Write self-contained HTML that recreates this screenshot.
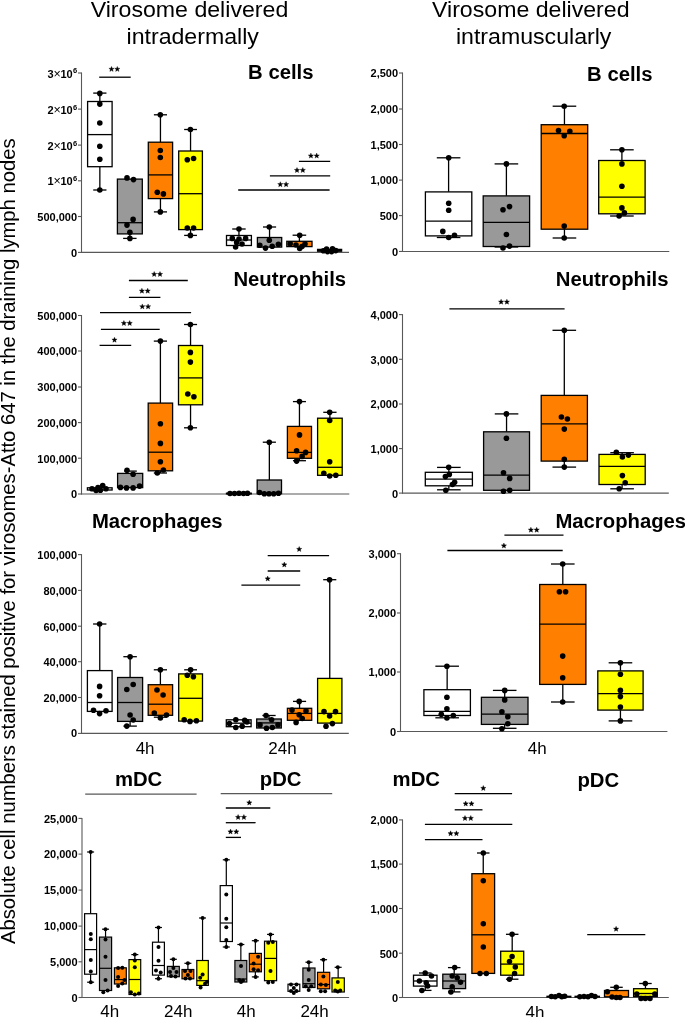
<!DOCTYPE html>
<html><head><meta charset="utf-8"><style>
html,body{margin:0;padding:0;background:#fff;width:685px;height:1017px;overflow:hidden}
svg{display:block;will-change:transform}
</style></head><body>
<svg width="685" height="1017" viewBox="0 0 685 1017" style="font-family:'Liberation Sans', sans-serif">
<rect width="685" height="1017" fill="#fff"/>
<text transform="translate(90.70,16.50) scale(1.052,1)" x="0" y="0" font-size="22">Virosome delivered</text>
<text transform="translate(127.96,43.90) scale(1.052,1)" x="-1.4" y="0" font-size="22">intradermally</text>
<text transform="translate(432.00,16.60) scale(1.052,1)" x="0" y="0" font-size="22">Virosome delivered</text>
<text transform="translate(458.00,43.80) scale(1.052,1)" x="-2" y="0" font-size="22">intramuscularly</text>
<text transform="translate(14.8,944) rotate(-90)" x="0" y="0" font-size="20" textLength="805.5" lengthAdjust="spacingAndGlyphs">Absolute cell numbers stained positive for virosomes-Atto 647 in the draining lymph nodes</text>
<line x1="81.50" y1="72.50" x2="81.50" y2="252.90" stroke="#585858" stroke-width="1.1"/>
<line x1="81.00" y1="252.40" x2="349.00" y2="252.40" stroke="#585858" stroke-width="1.1"/>
<line x1="78.00" y1="73.00" x2="81.50" y2="73.00" stroke="#585858" stroke-width="1.1"/>
<line x1="78.00" y1="109.10" x2="81.50" y2="109.10" stroke="#585858" stroke-width="1.1"/>
<line x1="78.00" y1="145.10" x2="81.50" y2="145.10" stroke="#585858" stroke-width="1.1"/>
<line x1="78.00" y1="180.80" x2="81.50" y2="180.80" stroke="#585858" stroke-width="1.1"/>
<line x1="78.00" y1="216.50" x2="81.50" y2="216.50" stroke="#585858" stroke-width="1.1"/>
<line x1="78.00" y1="252.40" x2="81.50" y2="252.40" stroke="#585858" stroke-width="1.1"/>
<text x="47.50" y="77.50" font-size="11" text-anchor="start" font-weight="bold" >3</text>
<text x="53.50" y="77.50" font-size="12.5" text-anchor="start" font-weight="normal" >×</text>
<text x="60.40" y="77.50" font-size="11" text-anchor="start" font-weight="bold" >10</text>
<text x="72.90" y="73.40" font-size="7.5" text-anchor="start" font-weight="bold" >6</text>
<text x="47.50" y="113.60" font-size="11" text-anchor="start" font-weight="bold" >2</text>
<text x="53.50" y="113.60" font-size="12.5" text-anchor="start" font-weight="normal" >×</text>
<text x="60.40" y="113.60" font-size="11" text-anchor="start" font-weight="bold" >10</text>
<text x="72.90" y="109.50" font-size="7.5" text-anchor="start" font-weight="bold" >6</text>
<text x="47.50" y="149.60" font-size="11" text-anchor="start" font-weight="bold" >2</text>
<text x="53.50" y="149.60" font-size="12.5" text-anchor="start" font-weight="normal" >×</text>
<text x="60.40" y="149.60" font-size="11" text-anchor="start" font-weight="bold" >10</text>
<text x="72.90" y="145.50" font-size="7.5" text-anchor="start" font-weight="bold" >6</text>
<text x="47.50" y="185.30" font-size="11" text-anchor="start" font-weight="bold" >1</text>
<text x="53.50" y="185.30" font-size="12.5" text-anchor="start" font-weight="normal" >×</text>
<text x="60.40" y="185.30" font-size="11" text-anchor="start" font-weight="bold" >10</text>
<text x="72.90" y="181.20" font-size="7.5" text-anchor="start" font-weight="bold" >6</text>
<text x="77.10" y="220.80" font-size="11" text-anchor="end" font-weight="bold" >500,000</text>
<text x="77.10" y="256.60" font-size="11" text-anchor="end" font-weight="bold" >0</text>
<text x="248.10" y="79.30" font-size="20.3" text-anchor="start" font-weight="bold" >B cells</text>
<line x1="99.85" y1="93.10" x2="99.85" y2="101.50" stroke="#000" stroke-width="1.3"/>
<line x1="93.23" y1="93.10" x2="106.46" y2="93.10" stroke="#000" stroke-width="1.3"/>
<line x1="99.85" y1="166.70" x2="99.85" y2="190.00" stroke="#000" stroke-width="1.3"/>
<line x1="93.23" y1="190.00" x2="106.46" y2="190.00" stroke="#000" stroke-width="1.3"/>
<rect x="87.60" y="101.50" width="24.50" height="65.20" fill="#ffffff" stroke="#000" stroke-width="1.3"/>
<line x1="87.60" y1="134.60" x2="112.10" y2="134.60" stroke="#000" stroke-width="1.3"/>
<circle cx="99.80" cy="93.40" r="2.8" fill="#000"/>
<circle cx="99.80" cy="104.10" r="2.8" fill="#000"/>
<circle cx="99.80" cy="123.00" r="2.8" fill="#000"/>
<circle cx="99.80" cy="146.20" r="2.8" fill="#000"/>
<circle cx="99.80" cy="159.30" r="2.8" fill="#000"/>
<circle cx="99.80" cy="190.00" r="2.8" fill="#000"/>
<line x1="129.85" y1="233.90" x2="129.85" y2="238.40" stroke="#000" stroke-width="1.3"/>
<line x1="123.13" y1="238.40" x2="136.57" y2="238.40" stroke="#000" stroke-width="1.3"/>
<rect x="117.40" y="179.10" width="24.90" height="54.80" fill="#999999" stroke="#000" stroke-width="1.3"/>
<line x1="117.40" y1="222.70" x2="142.30" y2="222.70" stroke="#000" stroke-width="1.3"/>
<circle cx="127.00" cy="177.90" r="2.8" fill="#000"/>
<circle cx="133.50" cy="179.60" r="2.8" fill="#000"/>
<circle cx="133.10" cy="219.40" r="2.8" fill="#000"/>
<circle cx="127.00" cy="225.10" r="2.8" fill="#000"/>
<circle cx="129.90" cy="232.30" r="2.8" fill="#000"/>
<circle cx="129.90" cy="238.40" r="2.8" fill="#000"/>
<line x1="160.45" y1="114.80" x2="160.45" y2="142.20" stroke="#000" stroke-width="1.3"/>
<line x1="153.89" y1="114.80" x2="167.01" y2="114.80" stroke="#000" stroke-width="1.3"/>
<line x1="160.45" y1="198.60" x2="160.45" y2="211.90" stroke="#000" stroke-width="1.3"/>
<line x1="153.89" y1="211.90" x2="167.01" y2="211.90" stroke="#000" stroke-width="1.3"/>
<rect x="148.30" y="142.20" width="24.30" height="56.40" fill="#ff8000" stroke="#000" stroke-width="1.3"/>
<line x1="148.30" y1="174.90" x2="172.60" y2="174.90" stroke="#000" stroke-width="1.3"/>
<circle cx="160.30" cy="114.80" r="2.8" fill="#000"/>
<circle cx="160.30" cy="150.50" r="2.8" fill="#000"/>
<circle cx="160.30" cy="157.50" r="2.8" fill="#000"/>
<circle cx="157.30" cy="192.20" r="2.8" fill="#000"/>
<circle cx="163.40" cy="193.90" r="2.8" fill="#000"/>
<circle cx="160.30" cy="211.90" r="2.8" fill="#000"/>
<line x1="190.55" y1="129.50" x2="190.55" y2="151.00" stroke="#000" stroke-width="1.3"/>
<line x1="184.15" y1="129.50" x2="196.95" y2="129.50" stroke="#000" stroke-width="1.3"/>
<line x1="190.55" y1="229.60" x2="190.55" y2="235.40" stroke="#000" stroke-width="1.3"/>
<line x1="184.15" y1="235.40" x2="196.95" y2="235.40" stroke="#000" stroke-width="1.3"/>
<rect x="178.70" y="151.00" width="23.70" height="78.60" fill="#ffff00" stroke="#000" stroke-width="1.3"/>
<line x1="178.70" y1="193.70" x2="202.40" y2="193.70" stroke="#000" stroke-width="1.3"/>
<circle cx="190.40" cy="129.50" r="2.8" fill="#000"/>
<circle cx="187.30" cy="159.70" r="2.8" fill="#000"/>
<circle cx="193.60" cy="158.50" r="2.8" fill="#000"/>
<circle cx="187.30" cy="228.00" r="2.8" fill="#000"/>
<circle cx="193.60" cy="228.00" r="2.8" fill="#000"/>
<circle cx="190.40" cy="235.40" r="2.8" fill="#000"/>
<line x1="238.95" y1="229.00" x2="238.95" y2="235.50" stroke="#000" stroke-width="1.3"/>
<line x1="232.23" y1="229.00" x2="245.67" y2="229.00" stroke="#000" stroke-width="1.3"/>
<rect x="226.50" y="235.50" width="24.90" height="10.00" fill="#ffffff" stroke="#000" stroke-width="1.3"/>
<line x1="226.50" y1="240.00" x2="251.40" y2="240.00" stroke="#000" stroke-width="1.3"/>
<circle cx="239.00" cy="229.00" r="2.8" fill="#000"/>
<circle cx="232.30" cy="238.40" r="2.8" fill="#000"/>
<circle cx="239.00" cy="239.00" r="2.8" fill="#000"/>
<circle cx="245.60" cy="238.40" r="2.8" fill="#000"/>
<circle cx="236.70" cy="242.40" r="2.8" fill="#000"/>
<circle cx="242.00" cy="244.00" r="2.8" fill="#000"/>
<circle cx="235.60" cy="247.00" r="2.8" fill="#000"/>
<line x1="269.55" y1="227.00" x2="269.55" y2="237.50" stroke="#000" stroke-width="1.3"/>
<line x1="262.99" y1="227.00" x2="276.11" y2="227.00" stroke="#000" stroke-width="1.3"/>
<rect x="257.40" y="237.50" width="24.30" height="9.60" fill="#999999" stroke="#000" stroke-width="1.3"/>
<circle cx="269.30" cy="227.00" r="2.8" fill="#000"/>
<circle cx="269.30" cy="240.30" r="2.8" fill="#000"/>
<circle cx="259.80" cy="245.20" r="2.8" fill="#000"/>
<circle cx="265.50" cy="248.10" r="2.8" fill="#000"/>
<circle cx="272.20" cy="246.20" r="2.8" fill="#000"/>
<circle cx="278.40" cy="244.30" r="2.8" fill="#000"/>
<line x1="299.40" y1="235.20" x2="299.40" y2="241.30" stroke="#000" stroke-width="1.3"/>
<line x1="292.60" y1="235.20" x2="306.20" y2="235.20" stroke="#000" stroke-width="1.3"/>
<rect x="286.80" y="241.30" width="25.20" height="5.30" fill="#ff8000" stroke="#000" stroke-width="1.3"/>
<circle cx="299.70" cy="235.20" r="2.8" fill="#000"/>
<circle cx="290.20" cy="243.70" r="2.8" fill="#000"/>
<circle cx="299.70" cy="248.50" r="2.8" fill="#000"/>
<circle cx="305.00" cy="244.00" r="2.8" fill="#000"/>
<circle cx="296.00" cy="245.00" r="2.8" fill="#000"/>
<circle cx="302.00" cy="246.50" r="2.8" fill="#000"/>
<rect x="317.60" y="249.40" width="24.00" height="1.80" fill="#000" stroke="#000" stroke-width="1.3"/>
<circle cx="323.40" cy="250.80" r="2.8" fill="#000"/>
<circle cx="326.60" cy="249.00" r="2.8" fill="#000"/>
<circle cx="327.50" cy="251.60" r="2.8" fill="#000"/>
<circle cx="332.50" cy="248.70" r="2.8" fill="#000"/>
<circle cx="331.60" cy="251.60" r="2.8" fill="#000"/>
<circle cx="335.70" cy="250.60" r="2.8" fill="#000"/>
<line x1="99.20" y1="77.20" x2="130.70" y2="77.20" stroke="#000" stroke-width="1.3"/>
<polygon points="111.50,66.41 112.21,68.19 114.12,68.31 112.64,69.53 113.12,71.39 111.50,70.36 109.88,71.39 110.36,69.53 108.88,68.31 110.79,68.19" fill="#000" stroke="#000" stroke-width="0.35" stroke-linejoin="round"/>
<polygon points="117.30,66.41 118.01,68.19 119.92,68.31 118.44,69.53 118.92,71.39 117.30,70.36 115.68,71.39 116.16,69.53 114.68,68.31 116.59,68.19" fill="#000" stroke="#000" stroke-width="0.35" stroke-linejoin="round"/>
<line x1="298.90" y1="161.40" x2="330.20" y2="161.40" stroke="#000" stroke-width="1.3"/>
<polygon points="310.90,153.11 311.61,154.89 313.52,155.01 312.04,156.23 312.52,158.09 310.90,157.06 309.28,158.09 309.76,156.23 308.28,155.01 310.19,154.89" fill="#000" stroke="#000" stroke-width="0.35" stroke-linejoin="round"/>
<polygon points="316.70,153.11 317.41,154.89 319.32,155.01 317.84,156.23 318.32,158.09 316.70,157.06 315.08,158.09 315.56,156.23 314.08,155.01 315.99,154.89" fill="#000" stroke="#000" stroke-width="0.35" stroke-linejoin="round"/>
<line x1="269.90" y1="175.90" x2="330.20" y2="175.90" stroke="#000" stroke-width="1.3"/>
<polygon points="297.00,167.51 297.71,169.29 299.62,169.41 298.14,170.63 298.62,172.49 297.00,171.46 295.38,172.49 295.86,170.63 294.38,169.41 296.29,169.29" fill="#000" stroke="#000" stroke-width="0.35" stroke-linejoin="round"/>
<polygon points="302.80,167.51 303.51,169.29 305.42,169.41 303.94,170.63 304.42,172.49 302.80,171.46 301.18,172.49 301.66,170.63 300.18,169.41 302.09,169.29" fill="#000" stroke="#000" stroke-width="0.35" stroke-linejoin="round"/>
<line x1="238.20" y1="190.00" x2="329.60" y2="190.00" stroke="#000" stroke-width="1.3"/>
<polygon points="280.30,181.71 281.01,183.49 282.92,183.61 281.44,184.83 281.92,186.69 280.30,185.66 278.68,186.69 279.16,184.83 277.68,183.61 279.59,183.49" fill="#000" stroke="#000" stroke-width="0.35" stroke-linejoin="round"/>
<polygon points="286.10,181.71 286.81,183.49 288.72,183.61 287.24,184.83 287.72,186.69 286.10,185.66 284.48,186.69 284.96,184.83 283.48,183.61 285.39,183.49" fill="#000" stroke="#000" stroke-width="0.35" stroke-linejoin="round"/>
<line x1="81.50" y1="315.00" x2="81.50" y2="494.50" stroke="#585858" stroke-width="1.1"/>
<line x1="81.00" y1="494.00" x2="349.30" y2="494.00" stroke="#585858" stroke-width="1.1"/>
<line x1="78.00" y1="315.50" x2="81.50" y2="315.50" stroke="#585858" stroke-width="1.1"/>
<line x1="78.00" y1="351.00" x2="81.50" y2="351.00" stroke="#585858" stroke-width="1.1"/>
<line x1="78.00" y1="387.00" x2="81.50" y2="387.00" stroke="#585858" stroke-width="1.1"/>
<line x1="78.00" y1="422.60" x2="81.50" y2="422.60" stroke="#585858" stroke-width="1.1"/>
<line x1="78.00" y1="458.20" x2="81.50" y2="458.20" stroke="#585858" stroke-width="1.1"/>
<line x1="78.00" y1="494.00" x2="81.50" y2="494.00" stroke="#585858" stroke-width="1.1"/>
<text x="77.10" y="319.80" font-size="11" text-anchor="end" font-weight="bold" >500,000</text>
<text x="77.10" y="355.30" font-size="11" text-anchor="end" font-weight="bold" >400,000</text>
<text x="77.10" y="391.30" font-size="11" text-anchor="end" font-weight="bold" >300,000</text>
<text x="77.10" y="426.90" font-size="11" text-anchor="end" font-weight="bold" >200,000</text>
<text x="77.10" y="462.50" font-size="11" text-anchor="end" font-weight="bold" >100,000</text>
<text x="77.10" y="498.10" font-size="11" text-anchor="end" font-weight="bold" >0</text>
<text x="233.40" y="285.80" font-size="20.3" text-anchor="start" font-weight="bold" >Neutrophils</text>
<rect x="87.40" y="487.80" width="24.70" height="2.20" fill="#ffffff" stroke="#000" stroke-width="1.3"/>
<circle cx="92.00" cy="488.80" r="2.8" fill="#000"/>
<circle cx="96.10" cy="490.50" r="2.8" fill="#000"/>
<circle cx="98.00" cy="487.60" r="2.8" fill="#000"/>
<circle cx="102.70" cy="485.50" r="2.8" fill="#000"/>
<circle cx="100.40" cy="490.20" r="2.8" fill="#000"/>
<circle cx="106.00" cy="488.80" r="2.8" fill="#000"/>
<rect x="117.60" y="473.40" width="25.10" height="14.20" fill="#999999" stroke="#000" stroke-width="1.3"/>
<circle cx="127.00" cy="470.30" r="2.8" fill="#000"/>
<circle cx="133.10" cy="474.30" r="2.8" fill="#000"/>
<circle cx="120.40" cy="487.40" r="2.8" fill="#000"/>
<circle cx="126.50" cy="487.90" r="2.8" fill="#000"/>
<circle cx="133.10" cy="487.90" r="2.8" fill="#000"/>
<circle cx="139.60" cy="486.10" r="2.8" fill="#000"/>
<line x1="124.20" y1="471.10" x2="136.80" y2="471.10" stroke="#000" stroke-width="1.3"/>
<line x1="160.40" y1="341.10" x2="160.40" y2="403.10" stroke="#000" stroke-width="1.3"/>
<line x1="153.81" y1="341.10" x2="166.99" y2="341.10" stroke="#000" stroke-width="1.3"/>
<line x1="160.40" y1="470.80" x2="160.40" y2="473.00" stroke="#000" stroke-width="1.3"/>
<line x1="153.81" y1="473.00" x2="166.99" y2="473.00" stroke="#000" stroke-width="1.3"/>
<rect x="148.20" y="403.10" width="24.40" height="67.70" fill="#ff8000" stroke="#000" stroke-width="1.3"/>
<line x1="148.20" y1="452.20" x2="172.60" y2="452.20" stroke="#000" stroke-width="1.3"/>
<circle cx="160.40" cy="341.10" r="2.8" fill="#000"/>
<circle cx="160.40" cy="423.70" r="2.8" fill="#000"/>
<circle cx="160.40" cy="443.40" r="2.8" fill="#000"/>
<circle cx="160.40" cy="461.70" r="2.8" fill="#000"/>
<circle cx="163.40" cy="470.00" r="2.8" fill="#000"/>
<circle cx="157.30" cy="473.00" r="2.8" fill="#000"/>
<line x1="190.55" y1="324.50" x2="190.55" y2="345.50" stroke="#000" stroke-width="1.3"/>
<line x1="184.04" y1="324.50" x2="197.06" y2="324.50" stroke="#000" stroke-width="1.3"/>
<line x1="190.55" y1="404.80" x2="190.55" y2="427.80" stroke="#000" stroke-width="1.3"/>
<line x1="184.04" y1="427.80" x2="197.06" y2="427.80" stroke="#000" stroke-width="1.3"/>
<rect x="178.50" y="345.50" width="24.10" height="59.30" fill="#ffff00" stroke="#000" stroke-width="1.3"/>
<line x1="178.50" y1="377.90" x2="202.60" y2="377.90" stroke="#000" stroke-width="1.3"/>
<circle cx="190.40" cy="324.50" r="2.8" fill="#000"/>
<circle cx="190.40" cy="352.40" r="2.8" fill="#000"/>
<circle cx="190.40" cy="362.10" r="2.8" fill="#000"/>
<circle cx="187.80" cy="394.00" r="2.8" fill="#000"/>
<circle cx="193.90" cy="396.80" r="2.8" fill="#000"/>
<circle cx="190.40" cy="427.80" r="2.8" fill="#000"/>
<rect x="226.50" y="493.20" width="24.80" height="0.70" fill="#ffffff" stroke="#000" stroke-width="1.3"/>
<circle cx="230.00" cy="493.50" r="2.8" fill="#000"/>
<circle cx="234.50" cy="493.50" r="2.8" fill="#000"/>
<circle cx="239.00" cy="493.30" r="2.8" fill="#000"/>
<circle cx="243.50" cy="493.50" r="2.8" fill="#000"/>
<circle cx="247.50" cy="493.30" r="2.8" fill="#000"/>
<line x1="269.35" y1="442.20" x2="269.35" y2="480.00" stroke="#000" stroke-width="1.3"/>
<line x1="262.79" y1="442.20" x2="275.91" y2="442.20" stroke="#000" stroke-width="1.3"/>
<rect x="257.20" y="480.00" width="24.30" height="13.70" fill="#999999" stroke="#000" stroke-width="1.3"/>
<circle cx="269.30" cy="442.20" r="2.8" fill="#000"/>
<circle cx="259.60" cy="492.50" r="2.8" fill="#000"/>
<circle cx="264.30" cy="493.70" r="2.8" fill="#000"/>
<circle cx="269.00" cy="493.70" r="2.8" fill="#000"/>
<circle cx="273.70" cy="493.70" r="2.8" fill="#000"/>
<circle cx="278.50" cy="493.20" r="2.8" fill="#000"/>
<line x1="299.45" y1="401.60" x2="299.45" y2="426.40" stroke="#000" stroke-width="1.3"/>
<line x1="292.94" y1="401.60" x2="305.96" y2="401.60" stroke="#000" stroke-width="1.3"/>
<line x1="299.45" y1="458.30" x2="299.45" y2="460.70" stroke="#000" stroke-width="1.3"/>
<line x1="292.94" y1="460.70" x2="305.96" y2="460.70" stroke="#000" stroke-width="1.3"/>
<rect x="287.40" y="426.40" width="24.10" height="31.90" fill="#ff8000" stroke="#000" stroke-width="1.3"/>
<line x1="287.40" y1="452.40" x2="311.50" y2="452.40" stroke="#000" stroke-width="1.3"/>
<circle cx="299.50" cy="401.60" r="2.8" fill="#000"/>
<circle cx="299.50" cy="434.90" r="2.8" fill="#000"/>
<circle cx="296.60" cy="450.70" r="2.8" fill="#000"/>
<circle cx="305.60" cy="452.40" r="2.8" fill="#000"/>
<circle cx="302.10" cy="456.40" r="2.8" fill="#000"/>
<circle cx="296.60" cy="461.10" r="2.8" fill="#000"/>
<line x1="329.90" y1="412.30" x2="329.90" y2="418.20" stroke="#000" stroke-width="1.3"/>
<line x1="323.26" y1="412.30" x2="336.54" y2="412.30" stroke="#000" stroke-width="1.3"/>
<rect x="317.60" y="418.20" width="24.60" height="57.10" fill="#ffff00" stroke="#000" stroke-width="1.3"/>
<line x1="317.60" y1="467.30" x2="342.20" y2="467.30" stroke="#000" stroke-width="1.3"/>
<circle cx="329.70" cy="412.30" r="2.8" fill="#000"/>
<circle cx="329.70" cy="420.50" r="2.8" fill="#000"/>
<circle cx="329.70" cy="461.80" r="2.8" fill="#000"/>
<circle cx="323.80" cy="473.20" r="2.8" fill="#000"/>
<circle cx="329.70" cy="476.00" r="2.8" fill="#000"/>
<circle cx="335.80" cy="475.30" r="2.8" fill="#000"/>
<line x1="128.90" y1="280.50" x2="187.80" y2="280.50" stroke="#000" stroke-width="1.3"/>
<polygon points="154.20,271.51 154.91,273.29 156.82,273.41 155.34,274.63 155.82,276.49 154.20,275.46 152.58,276.49 153.06,274.63 151.58,273.41 153.49,273.29" fill="#000" stroke="#000" stroke-width="0.35" stroke-linejoin="round"/>
<polygon points="160.00,271.51 160.71,273.29 162.62,273.41 161.14,274.63 161.62,276.49 160.00,275.46 158.38,276.49 158.86,274.63 157.38,273.41 159.29,273.29" fill="#000" stroke="#000" stroke-width="0.35" stroke-linejoin="round"/>
<line x1="128.90" y1="297.30" x2="160.40" y2="297.30" stroke="#000" stroke-width="1.3"/>
<polygon points="141.90,288.21 142.61,289.99 144.52,290.11 143.04,291.33 143.52,293.19 141.90,292.16 140.28,293.19 140.76,291.33 139.28,290.11 141.19,289.99" fill="#000" stroke="#000" stroke-width="0.35" stroke-linejoin="round"/>
<polygon points="147.70,288.21 148.41,289.99 150.32,290.11 148.84,291.33 149.32,293.19 147.70,292.16 146.08,293.19 146.56,291.33 145.08,290.11 146.99,289.99" fill="#000" stroke="#000" stroke-width="0.35" stroke-linejoin="round"/>
<line x1="100.00" y1="312.70" x2="191.10" y2="312.70" stroke="#000" stroke-width="1.3"/>
<polygon points="142.30,303.91 143.01,305.69 144.92,305.81 143.44,307.03 143.92,308.89 142.30,307.86 140.68,308.89 141.16,307.03 139.68,305.81 141.59,305.69" fill="#000" stroke="#000" stroke-width="0.35" stroke-linejoin="round"/>
<polygon points="148.10,303.91 148.81,305.69 150.72,305.81 149.24,307.03 149.72,308.89 148.10,307.86 146.48,308.89 146.96,307.03 145.48,305.81 147.39,305.69" fill="#000" stroke="#000" stroke-width="0.35" stroke-linejoin="round"/>
<line x1="100.90" y1="329.40" x2="159.70" y2="329.40" stroke="#000" stroke-width="1.3"/>
<polygon points="123.90,320.51 124.61,322.29 126.52,322.41 125.04,323.63 125.52,325.49 123.90,324.46 122.28,325.49 122.76,323.63 121.28,322.41 123.19,322.29" fill="#000" stroke="#000" stroke-width="0.35" stroke-linejoin="round"/>
<polygon points="129.70,320.51 130.41,322.29 132.32,322.41 130.84,323.63 131.32,325.49 129.70,324.46 128.08,325.49 128.56,323.63 127.08,322.41 128.99,322.29" fill="#000" stroke="#000" stroke-width="0.35" stroke-linejoin="round"/>
<line x1="99.60" y1="345.30" x2="131.20" y2="345.30" stroke="#000" stroke-width="1.3"/>
<polygon points="114.50,337.21 115.21,338.99 117.12,339.11 115.64,340.33 116.12,342.19 114.50,341.16 112.88,342.19 113.36,340.33 111.88,339.11 113.79,338.99" fill="#000" stroke="#000" stroke-width="0.35" stroke-linejoin="round"/>
<line x1="81.50" y1="554.10" x2="81.50" y2="733.90" stroke="#585858" stroke-width="1.1"/>
<line x1="81.00" y1="733.40" x2="348.80" y2="733.40" stroke="#585858" stroke-width="1.1"/>
<line x1="78.00" y1="554.60" x2="81.50" y2="554.60" stroke="#585858" stroke-width="1.1"/>
<line x1="78.00" y1="590.40" x2="81.50" y2="590.40" stroke="#585858" stroke-width="1.1"/>
<line x1="78.00" y1="626.20" x2="81.50" y2="626.20" stroke="#585858" stroke-width="1.1"/>
<line x1="78.00" y1="661.70" x2="81.50" y2="661.70" stroke="#585858" stroke-width="1.1"/>
<line x1="78.00" y1="697.50" x2="81.50" y2="697.50" stroke="#585858" stroke-width="1.1"/>
<line x1="78.00" y1="733.40" x2="81.50" y2="733.40" stroke="#585858" stroke-width="1.1"/>
<text x="77.10" y="558.90" font-size="11" text-anchor="end" font-weight="bold" >100,000</text>
<text x="77.10" y="594.70" font-size="11" text-anchor="end" font-weight="bold" >80,000</text>
<text x="77.10" y="630.50" font-size="11" text-anchor="end" font-weight="bold" >60,000</text>
<text x="77.10" y="666.00" font-size="11" text-anchor="end" font-weight="bold" >40,000</text>
<text x="77.10" y="701.80" font-size="11" text-anchor="end" font-weight="bold" >20,000</text>
<text x="77.10" y="737.30" font-size="11" text-anchor="end" font-weight="bold" >0</text>
<text x="91.90" y="527.80" font-size="20.3" text-anchor="start" font-weight="bold" >Macrophages</text>
<text x="135.65" y="754.00" font-size="17" text-anchor="start" font-weight="normal" >4h</text>
<text x="268.30" y="754.00" font-size="17" text-anchor="start" font-weight="normal" >24h</text>
<line x1="99.75" y1="624.00" x2="99.75" y2="670.60" stroke="#000" stroke-width="1.3"/>
<line x1="93.08" y1="624.00" x2="106.42" y2="624.00" stroke="#000" stroke-width="1.3"/>
<rect x="87.40" y="670.60" width="24.70" height="40.80" fill="#ffffff" stroke="#000" stroke-width="1.3"/>
<line x1="87.40" y1="702.50" x2="112.10" y2="702.50" stroke="#000" stroke-width="1.3"/>
<circle cx="99.60" cy="624.00" r="2.8" fill="#000"/>
<circle cx="99.60" cy="686.40" r="2.8" fill="#000"/>
<circle cx="99.60" cy="695.80" r="2.8" fill="#000"/>
<circle cx="93.50" cy="710.30" r="2.8" fill="#000"/>
<circle cx="99.60" cy="713.60" r="2.8" fill="#000"/>
<circle cx="106.00" cy="710.80" r="2.8" fill="#000"/>
<line x1="130.10" y1="656.70" x2="130.10" y2="677.50" stroke="#000" stroke-width="1.3"/>
<line x1="123.35" y1="656.70" x2="136.85" y2="656.70" stroke="#000" stroke-width="1.3"/>
<line x1="130.10" y1="721.40" x2="130.10" y2="726.10" stroke="#000" stroke-width="1.3"/>
<line x1="123.35" y1="726.10" x2="136.85" y2="726.10" stroke="#000" stroke-width="1.3"/>
<rect x="117.60" y="677.50" width="25.00" height="43.90" fill="#999999" stroke="#000" stroke-width="1.3"/>
<line x1="117.60" y1="702.50" x2="142.60" y2="702.50" stroke="#000" stroke-width="1.3"/>
<circle cx="130.10" cy="656.70" r="2.8" fill="#000"/>
<circle cx="126.80" cy="689.50" r="2.8" fill="#000"/>
<circle cx="133.20" cy="684.50" r="2.8" fill="#000"/>
<circle cx="130.10" cy="715.00" r="2.8" fill="#000"/>
<circle cx="133.20" cy="720.00" r="2.8" fill="#000"/>
<circle cx="126.80" cy="726.10" r="2.8" fill="#000"/>
<line x1="160.40" y1="669.80" x2="160.40" y2="684.70" stroke="#000" stroke-width="1.3"/>
<line x1="153.81" y1="669.80" x2="166.99" y2="669.80" stroke="#000" stroke-width="1.3"/>
<line x1="160.40" y1="715.30" x2="160.40" y2="717.20" stroke="#000" stroke-width="1.3"/>
<line x1="153.81" y1="717.20" x2="166.99" y2="717.20" stroke="#000" stroke-width="1.3"/>
<rect x="148.20" y="684.70" width="24.40" height="30.60" fill="#ff8000" stroke="#000" stroke-width="1.3"/>
<line x1="148.20" y1="704.20" x2="172.60" y2="704.20" stroke="#000" stroke-width="1.3"/>
<circle cx="160.40" cy="669.80" r="2.8" fill="#000"/>
<circle cx="157.00" cy="690.00" r="2.8" fill="#000"/>
<circle cx="163.10" cy="695.00" r="2.8" fill="#000"/>
<circle cx="154.30" cy="713.00" r="2.8" fill="#000"/>
<circle cx="160.40" cy="718.00" r="2.8" fill="#000"/>
<circle cx="166.50" cy="715.00" r="2.8" fill="#000"/>
<line x1="190.60" y1="669.80" x2="190.60" y2="673.90" stroke="#000" stroke-width="1.3"/>
<line x1="184.17" y1="669.80" x2="197.03" y2="669.80" stroke="#000" stroke-width="1.3"/>
<rect x="178.70" y="673.90" width="23.80" height="47.20" fill="#ffff00" stroke="#000" stroke-width="1.3"/>
<line x1="178.70" y1="698.30" x2="202.50" y2="698.30" stroke="#000" stroke-width="1.3"/>
<circle cx="190.60" cy="669.80" r="2.8" fill="#000"/>
<circle cx="187.30" cy="675.30" r="2.8" fill="#000"/>
<circle cx="193.40" cy="676.70" r="2.8" fill="#000"/>
<circle cx="184.20" cy="719.70" r="2.8" fill="#000"/>
<circle cx="190.00" cy="721.40" r="2.8" fill="#000"/>
<circle cx="196.40" cy="720.80" r="2.8" fill="#000"/>
<rect x="226.30" y="719.80" width="24.80" height="6.90" fill="#ffffff" stroke="#000" stroke-width="1.3"/>
<line x1="226.30" y1="723.20" x2="251.10" y2="723.20" stroke="#000" stroke-width="1.3"/>
<circle cx="235.80" cy="719.80" r="2.8" fill="#000"/>
<circle cx="244.70" cy="720.30" r="2.8" fill="#000"/>
<circle cx="235.80" cy="727.50" r="2.8" fill="#000"/>
<circle cx="242.20" cy="726.20" r="2.8" fill="#000"/>
<circle cx="229.40" cy="723.60" r="2.8" fill="#000"/>
<circle cx="247.00" cy="722.00" r="2.8" fill="#000"/>
<line x1="269.00" y1="715.50" x2="269.00" y2="719.00" stroke="#000" stroke-width="1.3"/>
<line x1="262.36" y1="715.50" x2="275.64" y2="715.50" stroke="#000" stroke-width="1.3"/>
<rect x="256.70" y="719.00" width="24.60" height="9.00" fill="#999999" stroke="#000" stroke-width="1.3"/>
<line x1="256.70" y1="722.90" x2="281.30" y2="722.90" stroke="#000" stroke-width="1.3"/>
<circle cx="266.00" cy="715.50" r="2.8" fill="#000"/>
<circle cx="271.60" cy="719.80" r="2.8" fill="#000"/>
<circle cx="260.00" cy="724.90" r="2.8" fill="#000"/>
<circle cx="266.50" cy="728.20" r="2.8" fill="#000"/>
<circle cx="272.30" cy="727.50" r="2.8" fill="#000"/>
<circle cx="278.00" cy="724.90" r="2.8" fill="#000"/>
<line x1="299.55" y1="701.40" x2="299.55" y2="708.30" stroke="#000" stroke-width="1.3"/>
<line x1="292.99" y1="701.40" x2="306.11" y2="701.40" stroke="#000" stroke-width="1.3"/>
<rect x="287.40" y="708.30" width="24.30" height="12.00" fill="#ff8000" stroke="#000" stroke-width="1.3"/>
<line x1="287.40" y1="713.40" x2="311.70" y2="713.40" stroke="#000" stroke-width="1.3"/>
<circle cx="299.20" cy="701.40" r="2.8" fill="#000"/>
<circle cx="292.00" cy="710.10" r="2.8" fill="#000"/>
<circle cx="306.00" cy="710.90" r="2.8" fill="#000"/>
<circle cx="299.20" cy="714.70" r="2.8" fill="#000"/>
<circle cx="302.20" cy="718.50" r="2.8" fill="#000"/>
<circle cx="296.10" cy="722.40" r="2.8" fill="#000"/>
<line x1="329.75" y1="579.70" x2="329.75" y2="678.40" stroke="#000" stroke-width="1.3"/>
<line x1="323.19" y1="579.70" x2="336.31" y2="579.70" stroke="#000" stroke-width="1.3"/>
<rect x="317.60" y="678.40" width="24.30" height="44.70" fill="#ffff00" stroke="#000" stroke-width="1.3"/>
<line x1="317.60" y1="713.40" x2="341.90" y2="713.40" stroke="#000" stroke-width="1.3"/>
<circle cx="329.60" cy="579.70" r="2.8" fill="#000"/>
<circle cx="324.00" cy="711.60" r="2.8" fill="#000"/>
<circle cx="335.50" cy="711.60" r="2.8" fill="#000"/>
<circle cx="329.60" cy="716.00" r="2.8" fill="#000"/>
<circle cx="332.40" cy="723.60" r="2.8" fill="#000"/>
<circle cx="326.00" cy="726.20" r="2.8" fill="#000"/>
<line x1="267.70" y1="555.70" x2="329.10" y2="555.70" stroke="#000" stroke-width="1.3"/>
<polygon points="299.20,546.51 299.91,548.29 301.82,548.41 300.34,549.63 300.82,551.49 299.20,550.46 297.58,551.49 298.06,549.63 296.58,548.41 298.49,548.29" fill="#000" stroke="#000" stroke-width="0.35" stroke-linejoin="round"/>
<line x1="267.70" y1="571.00" x2="300.20" y2="571.00" stroke="#000" stroke-width="1.3"/>
<polygon points="284.30,562.01 285.01,563.79 286.92,563.91 285.44,565.13 285.92,566.99 284.30,565.96 282.68,566.99 283.16,565.13 281.68,563.91 283.59,563.79" fill="#000" stroke="#000" stroke-width="0.35" stroke-linejoin="round"/>
<line x1="241.40" y1="585.10" x2="300.20" y2="585.10" stroke="#000" stroke-width="1.3"/>
<polygon points="267.70,576.01 268.41,577.79 270.32,577.91 268.84,579.13 269.32,580.99 267.70,579.96 266.08,580.99 266.56,579.13 265.08,577.91 266.99,577.79" fill="#000" stroke="#000" stroke-width="0.35" stroke-linejoin="round"/>
<line x1="82.00" y1="817.90" x2="82.00" y2="998.00" stroke="#585858" stroke-width="1.1"/>
<line x1="81.50" y1="997.50" x2="349.10" y2="997.50" stroke="#585858" stroke-width="1.1"/>
<line x1="78.50" y1="818.40" x2="82.00" y2="818.40" stroke="#585858" stroke-width="1.1"/>
<line x1="78.50" y1="854.10" x2="82.00" y2="854.10" stroke="#585858" stroke-width="1.1"/>
<line x1="78.50" y1="890.10" x2="82.00" y2="890.10" stroke="#585858" stroke-width="1.1"/>
<line x1="78.50" y1="926.10" x2="82.00" y2="926.10" stroke="#585858" stroke-width="1.1"/>
<line x1="78.50" y1="961.80" x2="82.00" y2="961.80" stroke="#585858" stroke-width="1.1"/>
<line x1="78.50" y1="997.50" x2="82.00" y2="997.50" stroke="#585858" stroke-width="1.1"/>
<text x="77.60" y="822.70" font-size="11" text-anchor="end" font-weight="bold" >25,000</text>
<text x="77.60" y="858.40" font-size="11" text-anchor="end" font-weight="bold" >20,000</text>
<text x="77.60" y="894.40" font-size="11" text-anchor="end" font-weight="bold" >15,000</text>
<text x="77.60" y="930.40" font-size="11" text-anchor="end" font-weight="bold" >10,000</text>
<text x="77.60" y="966.10" font-size="11" text-anchor="end" font-weight="bold" >5,000</text>
<text x="77.60" y="1001.80" font-size="11" text-anchor="end" font-weight="bold" >0</text>
<text x="114.90" y="786.30" font-size="20.3" text-anchor="start" font-weight="bold" >mDC</text>
<line x1="85.20" y1="794.20" x2="196.60" y2="794.20" stroke="#585858" stroke-width="1.2"/>
<text x="259.80" y="786.30" font-size="20.3" text-anchor="start" font-weight="bold" >pDC</text>
<line x1="220.70" y1="793.60" x2="332.20" y2="793.60" stroke="#585858" stroke-width="1.2"/>
<text x="100.30" y="1017.20" font-size="17" text-anchor="start" font-weight="normal" >4h</text>
<text x="164.10" y="1017.20" font-size="17" text-anchor="start" font-weight="normal" >24h</text>
<text x="236.70" y="1017.20" font-size="17" text-anchor="start" font-weight="normal" >4h</text>
<text x="300.40" y="1017.20" font-size="17" text-anchor="start" font-weight="normal" >24h</text>
<line x1="90.60" y1="852.00" x2="90.60" y2="913.70" stroke="#000" stroke-width="1.2"/>
<line x1="87.10" y1="852.00" x2="94.10" y2="852.00" stroke="#000" stroke-width="1.2"/>
<line x1="90.60" y1="974.20" x2="90.60" y2="982.20" stroke="#000" stroke-width="1.2"/>
<line x1="87.10" y1="982.20" x2="94.10" y2="982.20" stroke="#000" stroke-width="1.2"/>
<rect x="84.60" y="913.70" width="12.00" height="60.50" fill="#ffffff" stroke="#000" stroke-width="1.2"/>
<line x1="84.60" y1="949.60" x2="96.60" y2="949.60" stroke="#000" stroke-width="1.2"/>
<circle cx="90.70" cy="852.00" r="2.0" fill="#000"/>
<circle cx="90.80" cy="934.00" r="2.0" fill="#000"/>
<circle cx="90.80" cy="939.30" r="2.0" fill="#000"/>
<circle cx="90.80" cy="960.10" r="2.0" fill="#000"/>
<circle cx="90.80" cy="971.50" r="2.0" fill="#000"/>
<circle cx="90.80" cy="982.20" r="2.0" fill="#000"/>
<line x1="105.55" y1="929.20" x2="105.55" y2="937.10" stroke="#000" stroke-width="1.2"/>
<line x1="102.05" y1="929.20" x2="109.05" y2="929.20" stroke="#000" stroke-width="1.2"/>
<rect x="99.50" y="937.10" width="12.10" height="53.40" fill="#999999" stroke="#000" stroke-width="1.2"/>
<line x1="99.50" y1="968.30" x2="111.60" y2="968.30" stroke="#000" stroke-width="1.2"/>
<circle cx="105.50" cy="929.20" r="2.0" fill="#000"/>
<circle cx="105.50" cy="939.40" r="2.0" fill="#000"/>
<circle cx="105.50" cy="956.80" r="2.0" fill="#000"/>
<circle cx="105.50" cy="980.00" r="2.0" fill="#000"/>
<circle cx="103.30" cy="992.30" r="2.0" fill="#000"/>
<circle cx="107.60" cy="990.50" r="2.0" fill="#000"/>
<rect x="114.40" y="967.80" width="11.90" height="16.20" fill="#ff8000" stroke="#000" stroke-width="1.2"/>
<line x1="114.40" y1="979.60" x2="126.30" y2="979.60" stroke="#000" stroke-width="1.2"/>
<circle cx="118.10" cy="968.00" r="2.0" fill="#000"/>
<circle cx="122.30" cy="967.70" r="2.0" fill="#000"/>
<circle cx="118.10" cy="976.90" r="2.0" fill="#000"/>
<circle cx="124.50" cy="980.00" r="2.0" fill="#000"/>
<circle cx="122.30" cy="983.50" r="2.0" fill="#000"/>
<circle cx="118.10" cy="986.10" r="2.0" fill="#000"/>
<line x1="134.85" y1="954.60" x2="134.85" y2="959.60" stroke="#000" stroke-width="1.2"/>
<line x1="131.35" y1="954.60" x2="138.35" y2="954.60" stroke="#000" stroke-width="1.2"/>
<rect x="129.00" y="959.60" width="11.70" height="34.90" fill="#ffff00" stroke="#000" stroke-width="1.2"/>
<line x1="129.00" y1="979.50" x2="140.70" y2="979.50" stroke="#000" stroke-width="1.2"/>
<circle cx="134.80" cy="960.50" r="2.0" fill="#000"/>
<circle cx="134.80" cy="967.30" r="2.0" fill="#000"/>
<circle cx="130.90" cy="992.30" r="2.0" fill="#000"/>
<circle cx="134.80" cy="994.50" r="2.0" fill="#000"/>
<circle cx="138.90" cy="993.60" r="2.0" fill="#000"/>
<circle cx="134.80" cy="954.60" r="2.0" fill="#000"/>
<line x1="158.45" y1="927.50" x2="158.45" y2="942.20" stroke="#000" stroke-width="1.2"/>
<line x1="154.95" y1="927.50" x2="161.95" y2="927.50" stroke="#000" stroke-width="1.2"/>
<line x1="158.45" y1="975.10" x2="158.45" y2="978.70" stroke="#000" stroke-width="1.2"/>
<line x1="154.95" y1="978.70" x2="161.95" y2="978.70" stroke="#000" stroke-width="1.2"/>
<rect x="152.50" y="942.20" width="11.90" height="32.90" fill="#ffffff" stroke="#000" stroke-width="1.2"/>
<line x1="152.50" y1="965.50" x2="164.40" y2="965.50" stroke="#000" stroke-width="1.2"/>
<circle cx="158.50" cy="927.50" r="2.0" fill="#000"/>
<circle cx="158.50" cy="947.00" r="2.0" fill="#000"/>
<circle cx="158.50" cy="960.70" r="2.0" fill="#000"/>
<circle cx="156.00" cy="970.50" r="2.0" fill="#000"/>
<circle cx="160.70" cy="972.60" r="2.0" fill="#000"/>
<circle cx="158.50" cy="978.70" r="2.0" fill="#000"/>
<line x1="173.35" y1="959.30" x2="173.35" y2="966.40" stroke="#000" stroke-width="1.2"/>
<line x1="169.85" y1="959.30" x2="176.85" y2="959.30" stroke="#000" stroke-width="1.2"/>
<rect x="167.40" y="966.40" width="11.90" height="10.30" fill="#999999" stroke="#000" stroke-width="1.2"/>
<circle cx="173.40" cy="959.30" r="2.0" fill="#000"/>
<circle cx="173.40" cy="968.00" r="2.0" fill="#000"/>
<circle cx="170.00" cy="972.00" r="2.0" fill="#000"/>
<circle cx="176.50" cy="972.00" r="2.0" fill="#000"/>
<circle cx="171.00" cy="976.00" r="2.0" fill="#000"/>
<circle cx="175.50" cy="976.50" r="2.0" fill="#000"/>
<line x1="187.90" y1="963.30" x2="187.90" y2="969.50" stroke="#000" stroke-width="1.2"/>
<line x1="184.40" y1="963.30" x2="191.40" y2="963.30" stroke="#000" stroke-width="1.2"/>
<rect x="182.00" y="969.50" width="11.80" height="9.30" fill="#ff8000" stroke="#000" stroke-width="1.2"/>
<circle cx="187.90" cy="963.30" r="2.0" fill="#000"/>
<circle cx="185.00" cy="971.00" r="2.0" fill="#000"/>
<circle cx="190.50" cy="971.00" r="2.0" fill="#000"/>
<circle cx="187.90" cy="975.00" r="2.0" fill="#000"/>
<circle cx="185.50" cy="978.50" r="2.0" fill="#000"/>
<circle cx="190.00" cy="978.50" r="2.0" fill="#000"/>
<line x1="202.55" y1="918.00" x2="202.55" y2="960.50" stroke="#000" stroke-width="1.2"/>
<line x1="199.05" y1="918.00" x2="206.05" y2="918.00" stroke="#000" stroke-width="1.2"/>
<rect x="196.80" y="960.50" width="11.50" height="24.90" fill="#ffff00" stroke="#000" stroke-width="1.2"/>
<line x1="196.80" y1="980.70" x2="208.30" y2="980.70" stroke="#000" stroke-width="1.2"/>
<circle cx="202.60" cy="918.00" r="2.0" fill="#000"/>
<circle cx="202.60" cy="974.60" r="2.0" fill="#000"/>
<circle cx="200.20" cy="977.70" r="2.0" fill="#000"/>
<circle cx="200.60" cy="987.50" r="2.0" fill="#000"/>
<circle cx="205.00" cy="983.80" r="2.0" fill="#000"/>
<circle cx="207.10" cy="981.70" r="2.0" fill="#000"/>
<line x1="226.30" y1="859.80" x2="226.30" y2="885.60" stroke="#000" stroke-width="1.2"/>
<line x1="222.80" y1="859.80" x2="229.80" y2="859.80" stroke="#000" stroke-width="1.2"/>
<line x1="226.30" y1="941.50" x2="226.30" y2="947.00" stroke="#000" stroke-width="1.2"/>
<line x1="222.80" y1="947.00" x2="229.80" y2="947.00" stroke="#000" stroke-width="1.2"/>
<rect x="220.20" y="885.60" width="12.20" height="55.90" fill="#ffffff" stroke="#000" stroke-width="1.2"/>
<line x1="220.20" y1="923.00" x2="232.40" y2="923.00" stroke="#000" stroke-width="1.2"/>
<circle cx="226.30" cy="859.80" r="2.0" fill="#000"/>
<circle cx="226.30" cy="894.50" r="2.0" fill="#000"/>
<circle cx="226.30" cy="918.70" r="2.0" fill="#000"/>
<circle cx="226.30" cy="927.30" r="2.0" fill="#000"/>
<circle cx="226.30" cy="940.00" r="2.0" fill="#000"/>
<circle cx="226.30" cy="947.00" r="2.0" fill="#000"/>
<line x1="240.85" y1="944.50" x2="240.85" y2="960.50" stroke="#000" stroke-width="1.2"/>
<line x1="237.35" y1="944.50" x2="244.35" y2="944.50" stroke="#000" stroke-width="1.2"/>
<rect x="234.90" y="960.50" width="11.90" height="21.50" fill="#999999" stroke="#000" stroke-width="1.2"/>
<line x1="234.90" y1="979.00" x2="246.80" y2="979.00" stroke="#000" stroke-width="1.2"/>
<circle cx="241.00" cy="944.50" r="2.0" fill="#000"/>
<circle cx="241.00" cy="966.00" r="2.0" fill="#000"/>
<circle cx="239.20" cy="980.00" r="2.0" fill="#000"/>
<circle cx="243.00" cy="980.40" r="2.0" fill="#000"/>
<circle cx="241.00" cy="982.00" r="2.0" fill="#000"/>
<line x1="255.35" y1="940.70" x2="255.35" y2="953.40" stroke="#000" stroke-width="1.2"/>
<line x1="251.85" y1="940.70" x2="258.85" y2="940.70" stroke="#000" stroke-width="1.2"/>
<line x1="255.35" y1="971.80" x2="255.35" y2="976.90" stroke="#000" stroke-width="1.2"/>
<line x1="251.85" y1="976.90" x2="258.85" y2="976.90" stroke="#000" stroke-width="1.2"/>
<rect x="249.30" y="953.40" width="12.10" height="18.40" fill="#ff8000" stroke="#000" stroke-width="1.2"/>
<line x1="249.30" y1="964.20" x2="261.40" y2="964.20" stroke="#000" stroke-width="1.2"/>
<circle cx="255.60" cy="940.70" r="2.0" fill="#000"/>
<circle cx="258.10" cy="956.70" r="2.0" fill="#000"/>
<circle cx="253.60" cy="963.50" r="2.0" fill="#000"/>
<circle cx="253.60" cy="969.30" r="2.0" fill="#000"/>
<circle cx="258.10" cy="970.30" r="2.0" fill="#000"/>
<circle cx="255.60" cy="976.90" r="2.0" fill="#000"/>
<line x1="270.55" y1="934.40" x2="270.55" y2="941.20" stroke="#000" stroke-width="1.2"/>
<line x1="267.05" y1="934.40" x2="274.05" y2="934.40" stroke="#000" stroke-width="1.2"/>
<rect x="264.50" y="941.20" width="12.10" height="39.50" fill="#ffff00" stroke="#000" stroke-width="1.2"/>
<line x1="264.50" y1="958.40" x2="276.60" y2="958.40" stroke="#000" stroke-width="1.2"/>
<circle cx="270.50" cy="934.40" r="2.0" fill="#000"/>
<circle cx="268.30" cy="942.80" r="2.0" fill="#000"/>
<circle cx="272.80" cy="942.00" r="2.0" fill="#000"/>
<circle cx="270.50" cy="971.10" r="2.0" fill="#000"/>
<circle cx="268.30" cy="982.40" r="2.0" fill="#000"/>
<circle cx="272.80" cy="981.90" r="2.0" fill="#000"/>
<rect x="288.00" y="984.20" width="11.80" height="7.10" fill="#ffffff" stroke="#000" stroke-width="1.2"/>
<circle cx="291.00" cy="984.50" r="2.0" fill="#000"/>
<circle cx="296.50" cy="984.50" r="2.0" fill="#000"/>
<circle cx="293.80" cy="988.00" r="2.0" fill="#000"/>
<circle cx="291.00" cy="991.00" r="2.0" fill="#000"/>
<circle cx="296.50" cy="991.00" r="2.0" fill="#000"/>
<circle cx="293.80" cy="993.00" r="2.0" fill="#000"/>
<line x1="308.95" y1="962.20" x2="308.95" y2="968.00" stroke="#000" stroke-width="1.2"/>
<line x1="305.45" y1="962.20" x2="312.45" y2="962.20" stroke="#000" stroke-width="1.2"/>
<rect x="302.90" y="968.00" width="12.10" height="19.50" fill="#999999" stroke="#000" stroke-width="1.2"/>
<line x1="302.90" y1="983.70" x2="315.00" y2="983.70" stroke="#000" stroke-width="1.2"/>
<circle cx="308.70" cy="962.20" r="2.0" fill="#000"/>
<circle cx="308.70" cy="969.80" r="2.0" fill="#000"/>
<circle cx="308.70" cy="979.90" r="2.0" fill="#000"/>
<circle cx="305.70" cy="986.20" r="2.0" fill="#000"/>
<circle cx="311.20" cy="986.20" r="2.0" fill="#000"/>
<circle cx="308.70" cy="990.00" r="2.0" fill="#000"/>
<line x1="323.60" y1="959.70" x2="323.60" y2="972.30" stroke="#000" stroke-width="1.2"/>
<line x1="320.10" y1="959.70" x2="327.10" y2="959.70" stroke="#000" stroke-width="1.2"/>
<rect x="317.50" y="972.30" width="12.20" height="16.50" fill="#ff8000" stroke="#000" stroke-width="1.2"/>
<line x1="317.50" y1="984.50" x2="329.70" y2="984.50" stroke="#000" stroke-width="1.2"/>
<circle cx="323.40" cy="959.70" r="2.0" fill="#000"/>
<circle cx="323.40" cy="976.60" r="2.0" fill="#000"/>
<circle cx="320.80" cy="984.50" r="2.0" fill="#000"/>
<circle cx="325.90" cy="985.00" r="2.0" fill="#000"/>
<circle cx="320.80" cy="991.30" r="2.0" fill="#000"/>
<circle cx="325.10" cy="991.30" r="2.0" fill="#000"/>
<line x1="338.15" y1="967.30" x2="338.15" y2="977.90" stroke="#000" stroke-width="1.2"/>
<line x1="334.65" y1="967.30" x2="341.65" y2="967.30" stroke="#000" stroke-width="1.2"/>
<rect x="332.00" y="977.90" width="12.30" height="14.10" fill="#ffff00" stroke="#000" stroke-width="1.2"/>
<circle cx="337.80" cy="967.30" r="2.0" fill="#000"/>
<circle cx="337.80" cy="982.00" r="2.0" fill="#000"/>
<circle cx="335.20" cy="990.50" r="2.0" fill="#000"/>
<circle cx="340.30" cy="990.50" r="2.0" fill="#000"/>
<circle cx="337.80" cy="991.50" r="2.0" fill="#000"/>
<line x1="225.80" y1="808.00" x2="270.30" y2="808.00" stroke="#000" stroke-width="1.3"/>
<polygon points="249.30,800.01 250.01,801.79 251.92,801.91 250.44,803.13 250.92,804.99 249.30,803.96 247.68,804.99 248.16,803.13 246.68,801.91 248.59,801.79" fill="#000" stroke="#000" stroke-width="0.35" stroke-linejoin="round"/>
<line x1="225.80" y1="822.70" x2="255.60" y2="822.70" stroke="#000" stroke-width="1.3"/>
<polygon points="238.10,814.51 238.81,816.29 240.72,816.41 239.24,817.63 239.72,819.49 238.10,818.46 236.48,819.49 236.96,817.63 235.48,816.41 237.39,816.29" fill="#000" stroke="#000" stroke-width="0.35" stroke-linejoin="round"/>
<polygon points="243.90,814.51 244.61,816.29 246.52,816.41 245.04,817.63 245.52,819.49 243.90,818.46 242.28,819.49 242.76,817.63 241.28,816.41 243.19,816.29" fill="#000" stroke="#000" stroke-width="0.35" stroke-linejoin="round"/>
<line x1="225.80" y1="837.40" x2="241.00" y2="837.40" stroke="#000" stroke-width="1.3"/>
<polygon points="230.50,829.01 231.21,830.79 233.12,830.91 231.64,832.13 232.12,833.99 230.50,832.96 228.88,833.99 229.36,832.13 227.88,830.91 229.79,830.79" fill="#000" stroke="#000" stroke-width="0.35" stroke-linejoin="round"/>
<polygon points="236.30,829.01 237.01,830.79 238.92,830.91 237.44,832.13 237.92,833.99 236.30,832.96 234.68,833.99 235.16,832.13 233.68,830.91 235.59,830.79" fill="#000" stroke="#000" stroke-width="0.35" stroke-linejoin="round"/>
<line x1="402.50" y1="72.50" x2="402.50" y2="251.95" stroke="#585858" stroke-width="1.1"/>
<line x1="402.00" y1="251.45" x2="669.30" y2="251.45" stroke="#585858" stroke-width="1.1"/>
<line x1="399.00" y1="73.00" x2="402.50" y2="73.00" stroke="#585858" stroke-width="1.1"/>
<line x1="399.00" y1="109.00" x2="402.50" y2="109.00" stroke="#585858" stroke-width="1.1"/>
<line x1="399.00" y1="144.50" x2="402.50" y2="144.50" stroke="#585858" stroke-width="1.1"/>
<line x1="399.00" y1="180.10" x2="402.50" y2="180.10" stroke="#585858" stroke-width="1.1"/>
<line x1="399.00" y1="215.60" x2="402.50" y2="215.60" stroke="#585858" stroke-width="1.1"/>
<line x1="399.00" y1="251.45" x2="402.50" y2="251.45" stroke="#585858" stroke-width="1.1"/>
<text x="398.10" y="77.30" font-size="11" text-anchor="end" font-weight="bold" >2,500</text>
<text x="398.10" y="113.30" font-size="11" text-anchor="end" font-weight="bold" >2,000</text>
<text x="398.10" y="148.80" font-size="11" text-anchor="end" font-weight="bold" >1,500</text>
<text x="398.10" y="184.40" font-size="11" text-anchor="end" font-weight="bold" >1,000</text>
<text x="398.10" y="219.90" font-size="11" text-anchor="end" font-weight="bold" >500</text>
<text x="398.10" y="255.50" font-size="11" text-anchor="end" font-weight="bold" >0</text>
<text x="587.10" y="80.60" font-size="20.3" text-anchor="start" font-weight="bold" >B cells</text>
<line x1="448.60" y1="157.80" x2="448.60" y2="191.90" stroke="#000" stroke-width="1.3"/>
<line x1="436.80" y1="157.80" x2="460.40" y2="157.80" stroke="#000" stroke-width="1.3"/>
<line x1="448.60" y1="235.90" x2="448.60" y2="237.50" stroke="#000" stroke-width="1.3"/>
<line x1="436.80" y1="237.50" x2="460.40" y2="237.50" stroke="#000" stroke-width="1.3"/>
<rect x="425.40" y="191.90" width="46.40" height="44.00" fill="#ffffff" stroke="#000" stroke-width="1.3"/>
<line x1="425.40" y1="221.20" x2="471.80" y2="221.20" stroke="#000" stroke-width="1.3"/>
<circle cx="448.70" cy="157.80" r="2.8" fill="#000"/>
<circle cx="448.70" cy="203.20" r="2.8" fill="#000"/>
<circle cx="448.70" cy="210.30" r="2.8" fill="#000"/>
<circle cx="442.80" cy="231.40" r="2.8" fill="#000"/>
<circle cx="448.70" cy="237.50" r="2.8" fill="#000"/>
<circle cx="454.50" cy="235.30" r="2.8" fill="#000"/>
<line x1="506.40" y1="163.90" x2="506.40" y2="195.90" stroke="#000" stroke-width="1.3"/>
<line x1="494.60" y1="163.90" x2="518.20" y2="163.90" stroke="#000" stroke-width="1.3"/>
<line x1="506.40" y1="246.50" x2="506.40" y2="247.00" stroke="#000" stroke-width="1.3"/>
<line x1="494.60" y1="247.00" x2="518.20" y2="247.00" stroke="#000" stroke-width="1.3"/>
<rect x="483.20" y="195.90" width="46.40" height="50.60" fill="#999999" stroke="#000" stroke-width="1.3"/>
<line x1="483.20" y1="222.30" x2="529.60" y2="222.30" stroke="#000" stroke-width="1.3"/>
<circle cx="506.40" cy="163.90" r="2.8" fill="#000"/>
<circle cx="503.00" cy="209.70" r="2.8" fill="#000"/>
<circle cx="509.50" cy="206.60" r="2.8" fill="#000"/>
<circle cx="506.40" cy="234.50" r="2.8" fill="#000"/>
<circle cx="503.00" cy="248.00" r="2.8" fill="#000"/>
<circle cx="509.50" cy="246.10" r="2.8" fill="#000"/>
<line x1="564.45" y1="106.20" x2="564.45" y2="124.70" stroke="#000" stroke-width="1.3"/>
<line x1="552.65" y1="106.20" x2="576.25" y2="106.20" stroke="#000" stroke-width="1.3"/>
<line x1="564.45" y1="229.20" x2="564.45" y2="238.00" stroke="#000" stroke-width="1.3"/>
<line x1="552.65" y1="238.00" x2="576.25" y2="238.00" stroke="#000" stroke-width="1.3"/>
<rect x="541.20" y="124.70" width="46.50" height="104.50" fill="#ff8000" stroke="#000" stroke-width="1.3"/>
<line x1="541.20" y1="133.50" x2="587.70" y2="133.50" stroke="#000" stroke-width="1.3"/>
<circle cx="564.20" cy="106.20" r="2.8" fill="#000"/>
<circle cx="558.50" cy="130.60" r="2.8" fill="#000"/>
<circle cx="564.20" cy="135.70" r="2.8" fill="#000"/>
<circle cx="569.80" cy="131.30" r="2.8" fill="#000"/>
<circle cx="564.20" cy="226.10" r="2.8" fill="#000"/>
<circle cx="564.20" cy="238.00" r="2.8" fill="#000"/>
<line x1="621.90" y1="149.80" x2="621.90" y2="160.50" stroke="#000" stroke-width="1.3"/>
<line x1="610.10" y1="149.80" x2="633.70" y2="149.80" stroke="#000" stroke-width="1.3"/>
<line x1="621.90" y1="213.80" x2="621.90" y2="216.00" stroke="#000" stroke-width="1.3"/>
<line x1="610.10" y1="216.00" x2="633.70" y2="216.00" stroke="#000" stroke-width="1.3"/>
<rect x="598.70" y="160.50" width="46.40" height="53.30" fill="#ffff00" stroke="#000" stroke-width="1.3"/>
<line x1="598.70" y1="197.20" x2="645.10" y2="197.20" stroke="#000" stroke-width="1.3"/>
<circle cx="621.90" cy="149.80" r="2.8" fill="#000"/>
<circle cx="621.90" cy="163.90" r="2.8" fill="#000"/>
<circle cx="621.90" cy="186.20" r="2.8" fill="#000"/>
<circle cx="621.90" cy="207.90" r="2.8" fill="#000"/>
<circle cx="624.40" cy="212.90" r="2.8" fill="#000"/>
<circle cx="619.10" cy="216.00" r="2.8" fill="#000"/>
<line x1="402.50" y1="314.10" x2="402.50" y2="493.60" stroke="#585858" stroke-width="1.1"/>
<line x1="402.00" y1="493.10" x2="668.80" y2="493.10" stroke="#585858" stroke-width="1.1"/>
<line x1="399.00" y1="314.60" x2="402.50" y2="314.60" stroke="#585858" stroke-width="1.1"/>
<line x1="399.00" y1="359.30" x2="402.50" y2="359.30" stroke="#585858" stroke-width="1.1"/>
<line x1="399.00" y1="404.00" x2="402.50" y2="404.00" stroke="#585858" stroke-width="1.1"/>
<line x1="399.00" y1="448.60" x2="402.50" y2="448.60" stroke="#585858" stroke-width="1.1"/>
<line x1="399.00" y1="493.10" x2="402.50" y2="493.10" stroke="#585858" stroke-width="1.1"/>
<text x="398.10" y="318.90" font-size="11" text-anchor="end" font-weight="bold" >4,000</text>
<text x="398.10" y="363.60" font-size="11" text-anchor="end" font-weight="bold" >3,000</text>
<text x="398.10" y="408.30" font-size="11" text-anchor="end" font-weight="bold" >2,000</text>
<text x="398.10" y="452.90" font-size="11" text-anchor="end" font-weight="bold" >1,000</text>
<text x="398.10" y="497.60" font-size="11" text-anchor="end" font-weight="bold" >0</text>
<text x="555.80" y="285.90" font-size="20.3" text-anchor="start" font-weight="bold" >Neutrophils</text>
<line x1="449.40" y1="308.90" x2="564.60" y2="308.90" stroke="#000" stroke-width="1.3"/>
<polygon points="501.10,299.21 501.81,300.99 503.72,301.11 502.24,302.33 502.72,304.19 501.10,303.16 499.48,304.19 499.96,302.33 498.48,301.11 500.39,300.99" fill="#000" stroke="#000" stroke-width="0.35" stroke-linejoin="round"/>
<polygon points="506.90,299.21 507.61,300.99 509.52,301.11 508.04,302.33 508.52,304.19 506.90,303.16 505.28,304.19 505.76,302.33 504.28,301.11 506.19,300.99" fill="#000" stroke="#000" stroke-width="0.35" stroke-linejoin="round"/>
<line x1="448.85" y1="467.40" x2="448.85" y2="472.30" stroke="#000" stroke-width="1.3"/>
<line x1="437.05" y1="467.40" x2="460.65" y2="467.40" stroke="#000" stroke-width="1.3"/>
<line x1="448.85" y1="485.80" x2="448.85" y2="489.80" stroke="#000" stroke-width="1.3"/>
<line x1="437.05" y1="489.80" x2="460.65" y2="489.80" stroke="#000" stroke-width="1.3"/>
<rect x="425.30" y="472.30" width="47.10" height="13.50" fill="#ffffff" stroke="#000" stroke-width="1.3"/>
<line x1="425.30" y1="479.10" x2="472.40" y2="479.10" stroke="#000" stroke-width="1.3"/>
<circle cx="448.70" cy="467.20" r="2.8" fill="#000"/>
<circle cx="449.30" cy="474.40" r="2.8" fill="#000"/>
<circle cx="445.40" cy="476.60" r="2.8" fill="#000"/>
<circle cx="454.60" cy="482.30" r="2.8" fill="#000"/>
<circle cx="452.40" cy="484.50" r="2.8" fill="#000"/>
<circle cx="445.80" cy="490.20" r="2.8" fill="#000"/>
<line x1="506.55" y1="413.90" x2="506.55" y2="431.80" stroke="#000" stroke-width="1.3"/>
<line x1="494.75" y1="413.90" x2="518.35" y2="413.90" stroke="#000" stroke-width="1.3"/>
<rect x="483.60" y="431.80" width="45.90" height="58.50" fill="#999999" stroke="#000" stroke-width="1.3"/>
<line x1="483.60" y1="475.20" x2="529.50" y2="475.20" stroke="#000" stroke-width="1.3"/>
<circle cx="506.40" cy="413.90" r="2.8" fill="#000"/>
<circle cx="506.40" cy="438.20" r="2.8" fill="#000"/>
<circle cx="503.50" cy="472.70" r="2.8" fill="#000"/>
<circle cx="509.70" cy="478.40" r="2.8" fill="#000"/>
<circle cx="503.50" cy="491.30" r="2.8" fill="#000"/>
<circle cx="509.70" cy="490.30" r="2.8" fill="#000"/>
<line x1="564.30" y1="330.30" x2="564.30" y2="395.40" stroke="#000" stroke-width="1.3"/>
<line x1="552.50" y1="330.30" x2="576.10" y2="330.30" stroke="#000" stroke-width="1.3"/>
<line x1="564.30" y1="461.10" x2="564.30" y2="467.10" stroke="#000" stroke-width="1.3"/>
<line x1="552.50" y1="467.10" x2="576.10" y2="467.10" stroke="#000" stroke-width="1.3"/>
<rect x="541.20" y="395.40" width="46.20" height="65.70" fill="#ff8000" stroke="#000" stroke-width="1.3"/>
<line x1="541.20" y1="423.80" x2="587.40" y2="423.80" stroke="#000" stroke-width="1.3"/>
<circle cx="564.30" cy="330.30" r="2.8" fill="#000"/>
<circle cx="561.40" cy="417.00" r="2.8" fill="#000"/>
<circle cx="567.40" cy="419.00" r="2.8" fill="#000"/>
<circle cx="564.30" cy="429.10" r="2.8" fill="#000"/>
<circle cx="564.30" cy="459.20" r="2.8" fill="#000"/>
<circle cx="564.30" cy="467.10" r="2.8" fill="#000"/>
<line x1="622.10" y1="452.70" x2="622.10" y2="454.40" stroke="#000" stroke-width="1.3"/>
<line x1="610.30" y1="452.70" x2="633.90" y2="452.70" stroke="#000" stroke-width="1.3"/>
<line x1="622.10" y1="484.50" x2="622.10" y2="488.80" stroke="#000" stroke-width="1.3"/>
<line x1="610.30" y1="488.80" x2="633.90" y2="488.80" stroke="#000" stroke-width="1.3"/>
<rect x="599.00" y="454.40" width="46.20" height="30.10" fill="#ffff00" stroke="#000" stroke-width="1.3"/>
<line x1="599.00" y1="466.40" x2="645.20" y2="466.40" stroke="#000" stroke-width="1.3"/>
<circle cx="616.30" cy="452.20" r="2.8" fill="#000"/>
<circle cx="622.40" cy="457.00" r="2.8" fill="#000"/>
<circle cx="628.40" cy="455.10" r="2.8" fill="#000"/>
<circle cx="622.40" cy="475.60" r="2.8" fill="#000"/>
<circle cx="625.20" cy="482.80" r="2.8" fill="#000"/>
<circle cx="619.20" cy="488.80" r="2.8" fill="#000"/>
<line x1="400.50" y1="553.20" x2="400.50" y2="732.00" stroke="#585858" stroke-width="1.1"/>
<line x1="400.00" y1="731.50" x2="667.40" y2="731.50" stroke="#585858" stroke-width="1.1"/>
<line x1="397.00" y1="553.70" x2="400.50" y2="553.70" stroke="#585858" stroke-width="1.1"/>
<line x1="397.00" y1="613.00" x2="400.50" y2="613.00" stroke="#585858" stroke-width="1.1"/>
<line x1="397.00" y1="672.00" x2="400.50" y2="672.00" stroke="#585858" stroke-width="1.1"/>
<line x1="397.00" y1="731.50" x2="400.50" y2="731.50" stroke="#585858" stroke-width="1.1"/>
<text x="396.10" y="558.00" font-size="11" text-anchor="end" font-weight="bold" >3,000</text>
<text x="396.10" y="617.30" font-size="11" text-anchor="end" font-weight="bold" >2,000</text>
<text x="396.10" y="676.30" font-size="11" text-anchor="end" font-weight="bold" >1,000</text>
<text x="396.10" y="735.60" font-size="11" text-anchor="end" font-weight="bold" >0</text>
<text x="555.40" y="528.00" font-size="20.3" text-anchor="start" font-weight="bold" >Macrophages</text>
<text x="527.70" y="754.00" font-size="17" text-anchor="start" font-weight="normal" >4h</text>
<line x1="447.40" y1="550.50" x2="562.70" y2="550.50" stroke="#000" stroke-width="1.3"/>
<polygon points="503.90,543.01 504.61,544.79 506.52,544.91 505.04,546.13 505.52,547.99 503.90,546.96 502.28,547.99 502.76,546.13 501.28,544.91 503.19,544.79" fill="#000" stroke="#000" stroke-width="0.35" stroke-linejoin="round"/>
<line x1="504.40" y1="535.20" x2="563.50" y2="535.20" stroke="#000" stroke-width="1.3"/>
<polygon points="530.90,527.21 531.61,528.99 533.52,529.11 532.04,530.33 532.52,532.19 530.90,531.16 529.28,532.19 529.76,530.33 528.28,529.11 530.19,528.99" fill="#000" stroke="#000" stroke-width="0.35" stroke-linejoin="round"/>
<polygon points="536.70,527.21 537.41,528.99 539.32,529.11 537.84,530.33 538.32,532.19 536.70,531.16 535.08,532.19 535.56,530.33 534.08,529.11 535.99,528.99" fill="#000" stroke="#000" stroke-width="0.35" stroke-linejoin="round"/>
<line x1="447.15" y1="666.20" x2="447.15" y2="689.70" stroke="#000" stroke-width="1.3"/>
<line x1="435.35" y1="666.20" x2="458.95" y2="666.20" stroke="#000" stroke-width="1.3"/>
<line x1="447.15" y1="715.50" x2="447.15" y2="717.80" stroke="#000" stroke-width="1.3"/>
<line x1="435.35" y1="717.80" x2="458.95" y2="717.80" stroke="#000" stroke-width="1.3"/>
<rect x="423.90" y="689.70" width="46.50" height="25.80" fill="#ffffff" stroke="#000" stroke-width="1.3"/>
<line x1="423.90" y1="711.40" x2="470.40" y2="711.40" stroke="#000" stroke-width="1.3"/>
<circle cx="446.90" cy="666.20" r="2.8" fill="#000"/>
<circle cx="446.90" cy="697.30" r="2.8" fill="#000"/>
<circle cx="446.90" cy="708.80" r="2.8" fill="#000"/>
<circle cx="441.30" cy="714.20" r="2.8" fill="#000"/>
<circle cx="446.90" cy="718.00" r="2.8" fill="#000"/>
<circle cx="453.30" cy="715.50" r="2.8" fill="#000"/>
<line x1="504.70" y1="690.40" x2="504.70" y2="697.30" stroke="#000" stroke-width="1.3"/>
<line x1="492.90" y1="690.40" x2="516.50" y2="690.40" stroke="#000" stroke-width="1.3"/>
<line x1="504.70" y1="724.40" x2="504.70" y2="728.30" stroke="#000" stroke-width="1.3"/>
<line x1="492.90" y1="728.30" x2="516.50" y2="728.30" stroke="#000" stroke-width="1.3"/>
<rect x="481.40" y="697.30" width="46.60" height="27.10" fill="#999999" stroke="#000" stroke-width="1.3"/>
<line x1="481.40" y1="714.20" x2="528.00" y2="714.20" stroke="#000" stroke-width="1.3"/>
<circle cx="504.70" cy="690.40" r="2.8" fill="#000"/>
<circle cx="504.70" cy="699.90" r="2.8" fill="#000"/>
<circle cx="501.90" cy="711.70" r="2.8" fill="#000"/>
<circle cx="507.80" cy="716.80" r="2.8" fill="#000"/>
<circle cx="507.80" cy="723.70" r="2.8" fill="#000"/>
<circle cx="501.90" cy="728.80" r="2.8" fill="#000"/>
<line x1="562.80" y1="564.00" x2="562.80" y2="584.50" stroke="#000" stroke-width="1.3"/>
<line x1="551.00" y1="564.00" x2="574.60" y2="564.00" stroke="#000" stroke-width="1.3"/>
<line x1="562.80" y1="684.40" x2="562.80" y2="702.00" stroke="#000" stroke-width="1.3"/>
<line x1="551.00" y1="702.00" x2="574.60" y2="702.00" stroke="#000" stroke-width="1.3"/>
<rect x="539.70" y="584.50" width="46.20" height="99.90" fill="#ff8000" stroke="#000" stroke-width="1.3"/>
<line x1="539.70" y1="624.20" x2="585.90" y2="624.20" stroke="#000" stroke-width="1.3"/>
<circle cx="562.70" cy="564.00" r="2.8" fill="#000"/>
<circle cx="559.40" cy="591.80" r="2.8" fill="#000"/>
<circle cx="565.60" cy="591.80" r="2.8" fill="#000"/>
<circle cx="562.70" cy="656.10" r="2.8" fill="#000"/>
<circle cx="562.70" cy="677.70" r="2.8" fill="#000"/>
<circle cx="562.70" cy="702.00" r="2.8" fill="#000"/>
<line x1="620.45" y1="662.80" x2="620.45" y2="670.90" stroke="#000" stroke-width="1.3"/>
<line x1="608.65" y1="662.80" x2="632.25" y2="662.80" stroke="#000" stroke-width="1.3"/>
<line x1="620.45" y1="710.10" x2="620.45" y2="720.90" stroke="#000" stroke-width="1.3"/>
<line x1="608.65" y1="720.90" x2="632.25" y2="720.90" stroke="#000" stroke-width="1.3"/>
<rect x="597.80" y="670.90" width="45.30" height="39.20" fill="#ffff00" stroke="#000" stroke-width="1.3"/>
<line x1="597.80" y1="693.60" x2="643.10" y2="693.60" stroke="#000" stroke-width="1.3"/>
<circle cx="620.40" cy="662.80" r="2.8" fill="#000"/>
<circle cx="620.40" cy="674.20" r="2.8" fill="#000"/>
<circle cx="620.40" cy="690.40" r="2.8" fill="#000"/>
<circle cx="620.40" cy="696.60" r="2.8" fill="#000"/>
<circle cx="620.40" cy="707.10" r="2.8" fill="#000"/>
<circle cx="620.40" cy="720.90" r="2.8" fill="#000"/>
<line x1="402.50" y1="819.40" x2="402.50" y2="998.00" stroke="#585858" stroke-width="1.1"/>
<line x1="402.00" y1="997.50" x2="668.80" y2="997.50" stroke="#585858" stroke-width="1.1"/>
<line x1="399.00" y1="819.90" x2="402.50" y2="819.90" stroke="#585858" stroke-width="1.1"/>
<line x1="399.00" y1="864.10" x2="402.50" y2="864.10" stroke="#585858" stroke-width="1.1"/>
<line x1="399.00" y1="908.50" x2="402.50" y2="908.50" stroke="#585858" stroke-width="1.1"/>
<line x1="399.00" y1="953.20" x2="402.50" y2="953.20" stroke="#585858" stroke-width="1.1"/>
<line x1="399.00" y1="997.50" x2="402.50" y2="997.50" stroke="#585858" stroke-width="1.1"/>
<text x="398.10" y="824.20" font-size="11" text-anchor="end" font-weight="bold" >2,000</text>
<text x="398.10" y="868.40" font-size="11" text-anchor="end" font-weight="bold" >1,500</text>
<text x="398.10" y="912.80" font-size="11" text-anchor="end" font-weight="bold" >1,000</text>
<text x="398.10" y="957.50" font-size="11" text-anchor="end" font-weight="bold" >500</text>
<text x="398.10" y="1001.70" font-size="11" text-anchor="end" font-weight="bold" >0</text>
<text x="392.60" y="786.00" font-size="20.3" text-anchor="start" font-weight="bold" >mDC</text>
<text x="577.40" y="786.50" font-size="20.3" text-anchor="start" font-weight="bold" >pDC</text>
<text x="525.50" y="1017.50" font-size="17" text-anchor="start" font-weight="normal" >4h</text>
<line x1="454.70" y1="793.60" x2="512.10" y2="793.60" stroke="#000" stroke-width="1.3"/>
<polygon points="483.30,785.51 484.01,787.29 485.92,787.41 484.44,788.63 484.92,790.49 483.30,789.46 481.68,790.49 482.16,788.63 480.68,787.41 482.59,787.29" fill="#000" stroke="#000" stroke-width="0.35" stroke-linejoin="round"/>
<line x1="454.70" y1="809.80" x2="482.50" y2="809.80" stroke="#000" stroke-width="1.3"/>
<polygon points="465.70,801.01 466.41,802.79 468.32,802.91 466.84,804.13 467.32,805.99 465.70,804.96 464.08,805.99 464.56,804.13 463.08,802.91 464.99,802.79" fill="#000" stroke="#000" stroke-width="0.35" stroke-linejoin="round"/>
<polygon points="471.50,801.01 472.21,802.79 474.12,802.91 472.64,804.13 473.12,805.99 471.50,804.96 469.88,805.99 470.36,804.13 468.88,802.91 470.79,802.79" fill="#000" stroke="#000" stroke-width="0.35" stroke-linejoin="round"/>
<line x1="424.90" y1="824.40" x2="512.30" y2="824.40" stroke="#000" stroke-width="1.3"/>
<polygon points="465.00,815.51 465.71,817.29 467.62,817.41 466.14,818.63 466.62,820.49 465.00,819.46 463.38,820.49 463.86,818.63 462.38,817.41 464.29,817.29" fill="#000" stroke="#000" stroke-width="0.35" stroke-linejoin="round"/>
<polygon points="470.80,815.51 471.51,817.29 473.42,817.41 471.94,818.63 472.42,820.49 470.80,819.46 469.18,820.49 469.66,818.63 468.18,817.41 470.09,817.29" fill="#000" stroke="#000" stroke-width="0.35" stroke-linejoin="round"/>
<line x1="424.90" y1="839.60" x2="482.50" y2="839.60" stroke="#000" stroke-width="1.3"/>
<polygon points="450.60,830.81 451.31,832.59 453.22,832.71 451.74,833.93 452.22,835.79 450.60,834.76 448.98,835.79 449.46,833.93 447.98,832.71 449.89,832.59" fill="#000" stroke="#000" stroke-width="0.35" stroke-linejoin="round"/>
<polygon points="456.40,830.81 457.11,832.59 459.02,832.71 457.54,833.93 458.02,835.79 456.40,834.76 454.78,835.79 455.26,833.93 453.78,832.71 455.69,832.59" fill="#000" stroke="#000" stroke-width="0.35" stroke-linejoin="round"/>
<line x1="587.20" y1="934.70" x2="645.30" y2="934.70" stroke="#000" stroke-width="1.3"/>
<polygon points="616.10,926.31 616.81,928.09 618.72,928.21 617.24,929.43 617.72,931.29 616.10,930.26 614.48,931.29 614.96,929.43 613.48,928.21 615.39,928.09" fill="#000" stroke="#000" stroke-width="0.35" stroke-linejoin="round"/>
<line x1="425.25" y1="973.00" x2="425.25" y2="975.20" stroke="#000" stroke-width="1.3"/>
<line x1="419.00" y1="973.00" x2="431.50" y2="973.00" stroke="#000" stroke-width="1.3"/>
<line x1="425.25" y1="986.10" x2="425.25" y2="990.40" stroke="#000" stroke-width="1.3"/>
<line x1="419.00" y1="990.40" x2="431.50" y2="990.40" stroke="#000" stroke-width="1.3"/>
<rect x="413.50" y="975.20" width="23.50" height="10.90" fill="#ffffff" stroke="#000" stroke-width="1.3"/>
<line x1="413.50" y1="981.00" x2="437.00" y2="981.00" stroke="#000" stroke-width="1.3"/>
<circle cx="425.20" cy="973.00" r="2.75" fill="#000"/>
<circle cx="419.40" cy="981.00" r="2.75" fill="#000"/>
<circle cx="431.50" cy="975.90" r="2.75" fill="#000"/>
<circle cx="426.20" cy="982.80" r="2.75" fill="#000"/>
<circle cx="421.90" cy="990.40" r="2.75" fill="#000"/>
<circle cx="427.70" cy="986.10" r="2.75" fill="#000"/>
<line x1="454.20" y1="967.60" x2="454.20" y2="974.20" stroke="#000" stroke-width="1.3"/>
<line x1="447.95" y1="967.60" x2="460.45" y2="967.60" stroke="#000" stroke-width="1.3"/>
<line x1="454.20" y1="988.60" x2="454.20" y2="991.90" stroke="#000" stroke-width="1.3"/>
<line x1="447.95" y1="991.90" x2="460.45" y2="991.90" stroke="#000" stroke-width="1.3"/>
<rect x="442.80" y="974.20" width="22.80" height="14.40" fill="#999999" stroke="#000" stroke-width="1.3"/>
<line x1="442.80" y1="981.00" x2="465.60" y2="981.00" stroke="#000" stroke-width="1.3"/>
<circle cx="454.70" cy="967.60" r="2.75" fill="#000"/>
<circle cx="452.20" cy="976.00" r="2.75" fill="#000"/>
<circle cx="457.20" cy="977.70" r="2.75" fill="#000"/>
<circle cx="452.20" cy="986.80" r="2.75" fill="#000"/>
<circle cx="460.50" cy="982.30" r="2.75" fill="#000"/>
<circle cx="450.90" cy="991.90" r="2.75" fill="#000"/>
<line x1="483.25" y1="853.00" x2="483.25" y2="873.70" stroke="#000" stroke-width="1.3"/>
<line x1="477.00" y1="853.00" x2="489.50" y2="853.00" stroke="#000" stroke-width="1.3"/>
<rect x="471.90" y="873.70" width="22.70" height="99.70" fill="#ff8000" stroke="#000" stroke-width="1.3"/>
<line x1="471.90" y1="934.80" x2="494.60" y2="934.80" stroke="#000" stroke-width="1.3"/>
<circle cx="483.30" cy="853.00" r="2.75" fill="#000"/>
<circle cx="483.30" cy="880.70" r="2.75" fill="#000"/>
<circle cx="483.30" cy="923.70" r="2.75" fill="#000"/>
<circle cx="483.30" cy="946.90" r="2.75" fill="#000"/>
<circle cx="480.00" cy="973.40" r="2.75" fill="#000"/>
<circle cx="486.30" cy="973.40" r="2.75" fill="#000"/>
<line x1="512.20" y1="934.30" x2="512.20" y2="951.20" stroke="#000" stroke-width="1.3"/>
<line x1="505.95" y1="934.30" x2="518.45" y2="934.30" stroke="#000" stroke-width="1.3"/>
<line x1="512.20" y1="975.20" x2="512.20" y2="979.20" stroke="#000" stroke-width="1.3"/>
<line x1="505.95" y1="979.20" x2="518.45" y2="979.20" stroke="#000" stroke-width="1.3"/>
<rect x="500.70" y="951.20" width="23.00" height="24.00" fill="#ffff00" stroke="#000" stroke-width="1.3"/>
<line x1="500.70" y1="964.10" x2="523.70" y2="964.10" stroke="#000" stroke-width="1.3"/>
<circle cx="512.10" cy="934.30" r="2.75" fill="#000"/>
<circle cx="512.10" cy="956.50" r="2.75" fill="#000"/>
<circle cx="509.50" cy="961.60" r="2.75" fill="#000"/>
<circle cx="515.30" cy="967.10" r="2.75" fill="#000"/>
<circle cx="514.60" cy="973.40" r="2.75" fill="#000"/>
<circle cx="509.50" cy="979.20" r="2.75" fill="#000"/>
<rect x="547.00" y="996.30" width="23.80" height="0.70" fill="#ffffff" stroke="#000" stroke-width="1.3"/>
<circle cx="551.40" cy="996.50" r="2.75" fill="#000"/>
<circle cx="555.20" cy="996.80" r="2.75" fill="#000"/>
<circle cx="559.00" cy="995.50" r="2.75" fill="#000"/>
<circle cx="561.80" cy="996.80" r="2.75" fill="#000"/>
<circle cx="564.70" cy="996.30" r="2.75" fill="#000"/>
<rect x="575.10" y="996.30" width="24.30" height="0.70" fill="#999999" stroke="#000" stroke-width="1.3"/>
<circle cx="579.80" cy="996.80" r="2.75" fill="#000"/>
<circle cx="584.00" cy="996.50" r="2.75" fill="#000"/>
<circle cx="588.00" cy="996.80" r="2.75" fill="#000"/>
<circle cx="591.50" cy="995.50" r="2.75" fill="#000"/>
<circle cx="595.00" cy="996.50" r="2.75" fill="#000"/>
<line x1="616.50" y1="987.30" x2="616.50" y2="990.50" stroke="#000" stroke-width="1.3"/>
<line x1="610.25" y1="987.30" x2="622.75" y2="987.30" stroke="#000" stroke-width="1.3"/>
<rect x="604.50" y="990.50" width="24.00" height="6.30" fill="#ff8000" stroke="#000" stroke-width="1.3"/>
<circle cx="616.30" cy="987.30" r="2.75" fill="#000"/>
<circle cx="607.40" cy="991.70" r="2.75" fill="#000"/>
<circle cx="616.30" cy="997.40" r="2.75" fill="#000"/>
<circle cx="620.00" cy="997.50" r="2.75" fill="#000"/>
<circle cx="612.00" cy="997.00" r="2.75" fill="#000"/>
<line x1="645.45" y1="983.50" x2="645.45" y2="988.70" stroke="#000" stroke-width="1.3"/>
<line x1="639.20" y1="983.50" x2="651.70" y2="983.50" stroke="#000" stroke-width="1.3"/>
<rect x="633.60" y="988.70" width="23.70" height="7.80" fill="#ffff00" stroke="#000" stroke-width="1.3"/>
<line x1="633.60" y1="993.50" x2="657.30" y2="993.50" stroke="#000" stroke-width="1.3"/>
<circle cx="645.30" cy="983.50" r="2.75" fill="#000"/>
<circle cx="636.80" cy="994.00" r="2.75" fill="#000"/>
<circle cx="654.80" cy="994.00" r="2.75" fill="#000"/>
<circle cx="641.00" cy="998.50" r="2.75" fill="#000"/>
<circle cx="645.30" cy="998.50" r="2.75" fill="#000"/>
<circle cx="650.00" cy="998.50" r="2.75" fill="#000"/>
</svg>
</body></html>
